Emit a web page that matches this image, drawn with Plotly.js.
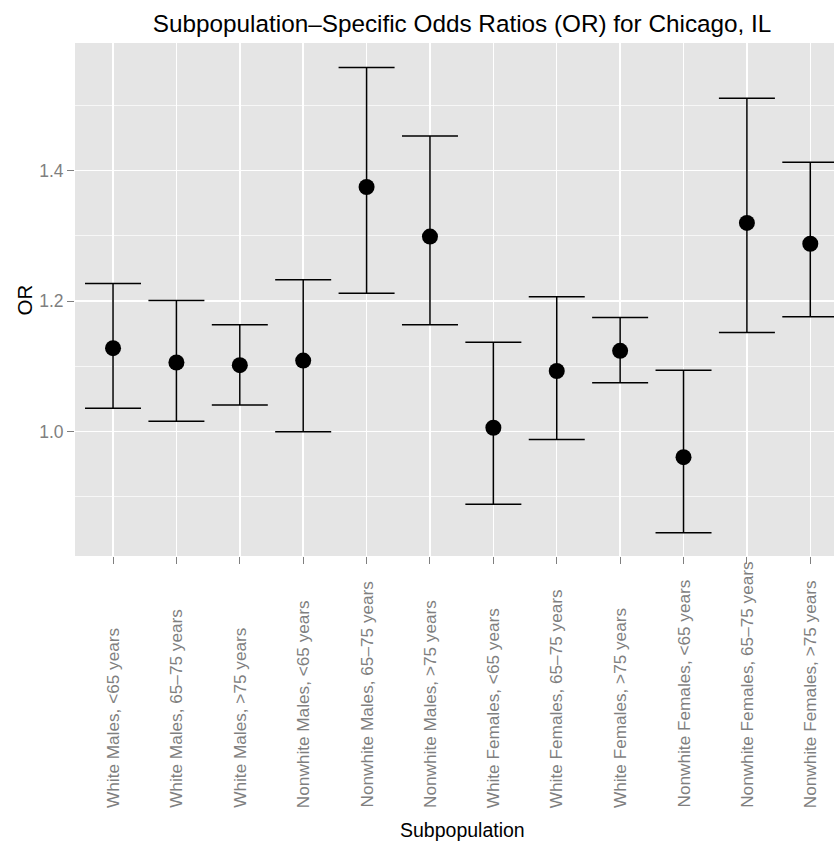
<!DOCTYPE html>
<html>
<head>
<meta charset="utf-8">
<script src="https://cdn.plot.ly/plotly-3.0.1.min.js"></script>
<style>html,body{margin:0;padding:0;background:#fff;}</style>
</head>
<body>
<div id="chart" style="width:834px;height:844px;"></div>
<script>
const categories = [
  "White Males, <65 years",
  "White Males, 65\u201375 years",
  "White Males, >75 years",
  "Nonwhite Males, <65 years",
  "Nonwhite Males, 65\u201375 years",
  "Nonwhite Males, >75 years",
  "White Females, <65 years",
  "White Females, 65\u201375 years",
  "White Females, >75 years",
  "Nonwhite Females, <65 years",
  "Nonwhite Females, 65\u201375 years",
  "Nonwhite Females, >75 years"
];
const oddsRatio = [1.128, 1.106, 1.102, 1.109, 1.375, 1.299, 1.006, 1.093, 1.124, 0.961, 1.320, 1.288];
const upperCI   = [1.227, 1.201, 1.164, 1.233, 1.558, 1.453, 1.137, 1.207, 1.175, 1.094, 1.511, 1.413];
const lowerCI   = [1.036, 1.016, 1.041, 1.000, 1.212, 1.164, 0.889, 0.988, 1.075, 0.845, 1.152, 1.176];
const yTickVals = [1.0, 1.2, 1.4];
const yTickText = ["1.0", "1.2", "1.4"];

const FONT = "Liberation Sans, Arial, Helvetica, sans-serif";
const GREY = "#7f7f7f";

const trace = {
  type: "scatter",
  mode: "markers",
  x: categories,
  y: oddsRatio,
  marker: {color: "black", size: 16},
  error_y: {
    type: "data",
    symmetric: false,
    array: upperCI.map((u, i) => u - oddsRatio[i]),
    arrayminus: lowerCI.map((l, i) => oddsRatio[i] - l),
    color: "black",
    thickness: 1.5,
    width: 28
  },
  hoverinfo: "x+y",
  showlegend: false,
  cliponaxis: true
};

const labelAnnotations = categories.map(c => ({
  x: c, xref: "x",
  y: -0.495, yref: "paper",
  text: c,
  textangle: -90,
  showarrow: false,
  xanchor: "center", yanchor: "bottom",
  font: {family: FONT, size: 17.2, color: GREY}
}));

const layout = {
  width: 834, height: 844,
  margin: {l: 75, r: 0, t: 43, b: 288, pad: 0},
  paper_bgcolor: "white",
  plot_bgcolor: "#e5e5e5",
  font: {family: FONT},
  title: {
    text: "Subpopulation\u2013Specific Odds Ratios (OR) for Chicago, IL",
    font: {family: FONT, size: 24.3, color: "black"},
    xref: "paper", x: 0.51, xanchor: "center",
    yref: "container", y: 0.972, yanchor: "middle"
  },
  xaxis: {
    type: "category",
    categoryorder: "array",
    categoryarray: categories,
    range: [-0.6, 11.374],
    showticklabels: false,
    ticks: "outside", ticklen: 7, tickcolor: GREY, tickwidth: 1,
    showgrid: true, gridcolor: "white", gridwidth: 1.5,
    zeroline: false, showline: false, fixedrange: true
  },
  yaxis: {
    range: [0.8095, 1.5957],
    tickmode: "array",
    tickvals: yTickVals,
    ticktext: yTickText,
    ticks: "outside", ticklen: 7, tickcolor: GREY, tickwidth: 1,
    tickfont: {family: FONT, size: 17.5, color: GREY},
    showgrid: true, gridcolor: "white", gridwidth: 1.5,
    minor: {tickmode: "array", tickvals: [0.9, 1.1, 1.3, 1.5], showgrid: true, gridcolor: "white", gridwidth: 0.7, ticks: ""},
    zeroline: false, showline: false, fixedrange: true
  },
  annotations: labelAnnotations.concat([
    {
      text: "Subpopulation", xref: "paper", yref: "paper",
      x: 0.51, y: -0.535, xanchor: "center", yanchor: "middle",
      showarrow: false,
      font: {family: FONT, size: 19.5, color: "black"}
    },
    {
      text: "OR", xref: "paper", yref: "paper",
      x: -0.066, y: 0.5, xanchor: "center", yanchor: "middle",
      textangle: -90, showarrow: false,
      font: {family: FONT, size: 20.5, color: "black"}
    }
  ])
};

Plotly.newPlot("chart", [trace], layout, {displayModeBar: false, staticPlot: true});
</script>
</body>
</html>
